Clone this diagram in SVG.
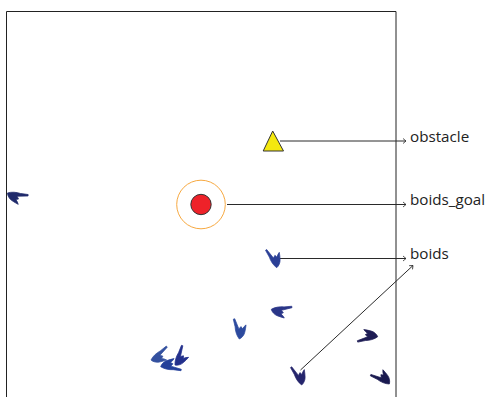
<svg xmlns="http://www.w3.org/2000/svg" width="488" height="397" viewBox="0 0 488 397">
<style>
.frame{fill:none;stroke:#222;stroke-width:1}
.conn{fill:none;stroke:#2a2a2a;stroke-width:1;marker-end:url(#arrow)}
.lbl{font-family:"Open Sans","Noto Sans",sans-serif;font-size:15.2px;fill:#222}
#boid{stroke-width:.7;stroke-linejoin:round}
</style>
<defs>
<marker id="arrow" markerUnits="userSpaceOnUse" markerWidth="8" markerHeight="8" refX="5" refY="4" orient="auto">
<path d="M2,1.5 L5,4 L2,6.5" fill="none" stroke="#2a2a2a" stroke-width="0.8"/>
</marker>
<path id="boid" d="M0,0 C2,-1.5 3.6,-5 3.4,-8 C3.3,-10.5 3,-13 2.6,-15.4 C1.6,-14 .6,-12.5 .2,-10.6 L-1.8,-12.4 L-3.2,-9.6 L-10,-18.2 L-11.2,-17.4 L-7.4,-10.6 C-6,-6.5 -3.5,-2.5 0,0 Z"/>
</defs>
<rect width="488" height="397" fill="#fff"/>
<path id="frame" class="frame" d="M6.5,397 V11.5 H396 V397"/>
<g id="connectors">
<path class="conn" d="M280,141 H406"/>
<path class="conn" d="M227,204.5 H406"/>
<path class="conn" d="M280,258.5 H406"/>
<path class="conn" d="M300.5,370 L413,265.5"/>
</g>
<g id="obstacle"><path d="M272.7,131 L263.2,151 H283.5 Z" fill="#f4e80f" stroke="#333" stroke-width="1"/></g>
<g id="boids_goal">
<circle cx="201" cy="204.5" r="24.3" fill="#fff" stroke="#f7a941" stroke-width="1"/>
<circle cx="201" cy="204.5" r="10.2" fill="#ee2229" stroke="#333" stroke-width="1"/>
</g>
<g id="boids">
<use href="#boid" transform="translate(276.7,267.7)" fill="#2b3f96" stroke="#2b3f96"/>
<use href="#boid" transform="translate(271.3,309.3) rotate(114.3)" fill="#2a3688" stroke="#2a3688"/>
<use href="#boid" transform="translate(377.7,336.7) rotate(-72.4)" fill="#1e1c54" stroke="#1e1c54"/>
<use href="#boid" transform="translate(389.3,384) rotate(-33.8)" fill="#1a1a50" stroke="#1a1a50"/>
<use href="#boid" transform="translate(301.7,385)" fill="#25256c" stroke="#25256c"/>
<use href="#boid" transform="translate(239.3,339) rotate(16)" fill="#2d4a9e" stroke="#2d4a9e"/>
<use href="#boid" transform="translate(151,360) rotate(80.5)" fill="#33509f" stroke="#33509f"/>
<use href="#boid" transform="translate(160.7,366.7) rotate(68.4) scale(-1,1)" fill="#24409a" stroke="#24409a"/>
<use href="#boid" transform="translate(175,365) rotate(51)" fill="#23308c" stroke="#23308c"/>
<use href="#boid" transform="translate(7.5,193) rotate(127)" fill="#1f2a6b" stroke="#1f2a6b"/>
</g>
<g id="labels">
<text class="lbl" x="410" y="142">obstacle</text>
<text class="lbl" x="410" y="205">boids_goal</text>
<text class="lbl" x="410" y="259">boids</text>
</g>
</svg>
